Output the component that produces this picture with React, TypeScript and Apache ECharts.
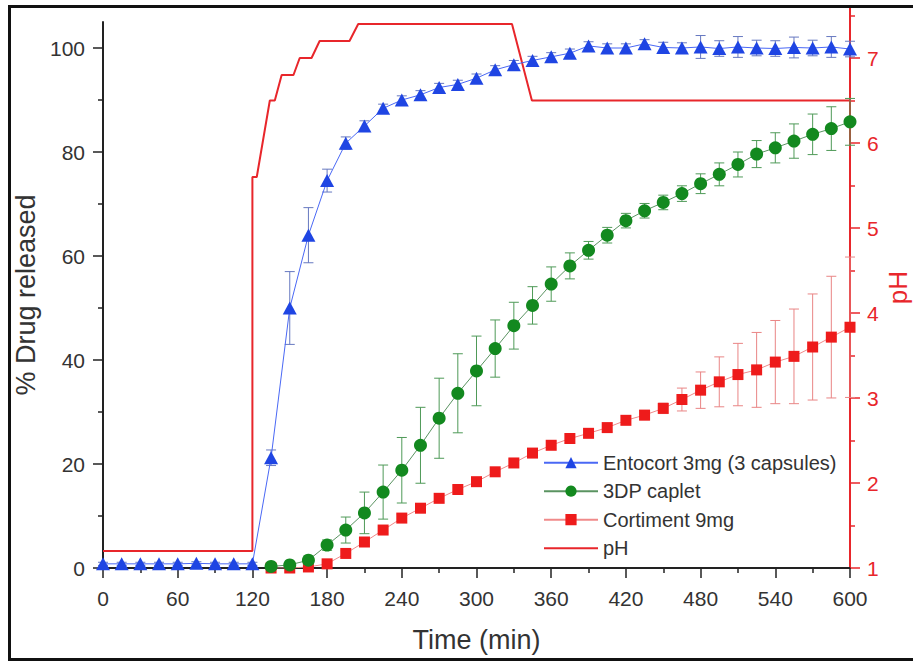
import React, { useEffect, useRef } from 'react';
import * as echarts from 'echarts';

// ---- Data ----
const timeEntocort = [0, 15, 30, 45, 60, 75, 90, 105, 120, 135, 150, 165, 180, 195, 210, 225, 240, 255, 270, 285, 300, 315, 330, 345, 360, 375, 390, 405, 420, 435, 450, 465, 480, 495, 510, 525, 540, 555, 570, 585, 600];
const entocort = [0.8, 0.8, 0.8, 0.8, 0.8, 0.9, 0.8, 0.8, 0.8, 21.2, 50, 64, 74.5, 81.7, 85, 88.4, 90, 91, 92.4, 93, 94.2, 95.8, 96.8, 97.6, 98.3, 99, 100.4, 100, 100, 100.8, 100.1, 100, 100.2, 99.9, 100.2, 100, 99.9, 100.1, 100, 100.2, 99.8];
const entocortErr = [0.3, 0.3, 0.3, 0.3, 0.3, 0.3, 0.3, 0.3, 0.3, 1.5, 7, 5.3, 2.2, 1.2, 1, 0.8, 0.8, 0.8, 0.8, 0.8, 0.8, 0.8, 0.8, 0.8, 0.8, 0.8, 0.8, 0.8, 0.8, 0.8, 1, 1, 2.2, 1.5, 2, 1.5, 1.5, 2, 1.5, 2, 1.5];

const timeLate = [135, 150, 165, 180, 195, 210, 225, 240, 255, 270, 285, 300, 315, 330, 345, 360, 375, 390, 405, 420, 435, 450, 465, 480, 495, 510, 525, 540, 555, 570, 585, 600];
const caplet = [0.3, 0.6, 1.5, 4.4, 7.3, 10.6, 14.6, 18.8, 23.6, 28.8, 33.6, 37.9, 42.2, 46.6, 50.5, 54.6, 58.1, 61.1, 64.0, 66.8, 68.7, 70.3, 72.0, 73.9, 75.7, 77.6, 79.6, 80.8, 82.1, 83.4, 84.5, 85.8];
const capletErr = [0.3, 0.4, 0.8, 1.0, 2.5, 4.0, 5.2, 6.3, 7.3, 7.7, 7.6, 6.7, 5.5, 4.5, 3.6, 3.3, 2.5, 1.7, 1.5, 1.4, 1.4, 1.4, 1.5, 1.9, 2.2, 2.4, 2.6, 2.9, 3.3, 3.9, 4.2, 4.5];
const cortiment = [0, 0, 0.2, 0.8, 2.8, 5.0, 7.3, 9.6, 11.5, 13.4, 15.1, 16.6, 18.5, 20.2, 22.1, 23.6, 24.9, 25.9, 27.0, 28.4, 29.4, 30.7, 32.4, 34.2, 35.8, 37.2, 38.1, 39.6, 40.7, 42.5, 44.4, 46.3];
const cortimentErr = [0.2, 0.2, 0.3, 0.4, 0.5, 0.6, 0.6, 0.7, 0.7, 0.7, 0.7, 0.7, 0.7, 0.7, 0.7, 0.7, 0.7, 0.8, 0.8, 0.8, 0.9, 1.0, 2.2, 3.5, 4.8, 6.0, 7.2, 8.0, 9.1, 10.2, 11.7, 13.5];

const phTime = [0, 120, 120, 123.5, 134, 138, 143.5, 153, 158, 167.5, 174, 198, 205, 328.5, 344.5, 600];
const phValue = [1.2, 1.2, 5.6, 5.6, 6.5, 6.5, 6.8, 6.8, 7.0, 7.0, 7.2, 7.2, 7.4, 7.4, 6.5, 6.5];

const leftMajorTicks = [0, 20, 40, 60, 80, 100];
const leftMinorTicks = [10, 30, 50, 70, 90];
const rightMajorTicks = [1, 2, 3, 4, 5, 6, 7];
const rightMinorTicks = [1.5, 2.5, 3.5, 4.5, 5.5, 6.5, 7.5];

const names = ['Entocort 3mg (3 capsules)', '3DP caplet', 'Cortiment 9mg', 'pH'];

const FONT = 'Liberation Sans, Arial, sans-serif';
const AXIS_DARK = '#222';
const TEXT = '#333';
const PH_RED = '#e8262b';

function pairs(xs: number[], ys: number[]) {
  return xs.map((x, i) => [x, ys[i]]);
}
function triples(xs: number[], ys: number[], es: number[]) {
  return xs.map((x, i) => [x, ys[i], es[i]]);
}

function errRender(color: string) {
  return (params: any, api: any) => {
    const x = api.value(0);
    const y = api.value(1);
    const e = api.value(2);
    if (!e) return null;
    const hi = api.coord([x, y + e]);
    const lo = api.coord([x, y - e]);
    const w = 5;
    const style = { stroke: color, lineWidth: 1 };
    return {
      type: 'group',
      children: [
        { type: 'line', shape: { x1: hi[0], y1: hi[1], x2: lo[0], y2: lo[1] }, style },
        { type: 'line', shape: { x1: hi[0] - w, y1: hi[1], x2: hi[0] + w, y2: hi[1] }, style },
        { type: 'line', shape: { x1: lo[0] - w, y1: lo[1], x2: lo[0] + w, y2: lo[1] }, style },
      ],
    };
  };
}

export default function App() {
  const ref = useRef<HTMLDivElement>(null);
  useEffect(() => {
    const chart = echarts.init(ref.current!, null, { renderer: 'svg' });
    const option: any = {
      animation: false,
      backgroundColor: '#fff',
      textStyle: { fontFamily: FONT },
      grid: [
        { left: 103, right: 63, top: 22, bottom: 94, outerBoundsMode: 'none', containLabel: false },
        { left: 103, right: 63, top: 7, bottom: 94, outerBoundsMode: 'none', containLabel: false },
      ],
      xAxis: [
        {
          gridIndex: 0,
          type: 'value',
          min: 0,
          max: 600,
          interval: 60,
          axisLine: { show: true, onZero: false, lineStyle: { color: AXIS_DARK, width: 2 } },
          axisTick: { show: true, inside: false, length: 10, lineStyle: { color: AXIS_DARK, width: 1.5 } },
          minorTick: { show: true, splitNumber: 2, length: 5, lineStyle: { color: AXIS_DARK, width: 1.5 } },
          axisLabel: { fontSize: 21, color: TEXT, margin: 20, fontFamily: FONT },
          splitLine: { show: false },
          minorSplitLine: { show: false },
          name: 'Time (min)',
          nameLocation: 'middle',
          nameGap: 58,
          nameMoveOverlap: false,
          nameTextStyle: { fontSize: 27, color: TEXT, fontFamily: FONT },
        },
        { gridIndex: 1, type: 'value', min: 0, max: 600, show: false },
      ],
      yAxis: [
        {
          gridIndex: 0,
          type: 'value',
          min: 0,
          max: 105,
          position: 'left',
          axisLine: { show: true, onZero: false, lineStyle: { color: AXIS_DARK, width: 2 } },
          axisTick: { show: true, length: 10, customValues: leftMajorTicks, lineStyle: { color: AXIS_DARK, width: 1.5 } },
          axisLabel: { customValues: leftMajorTicks, fontSize: 21, color: TEXT, margin: 18, fontFamily: FONT },
          splitLine: { show: false },
          name: '% Drug released',
          nameLocation: 'middle',
          nameGap: 64,
          nameMoveOverlap: false,
          nameTextStyle: { fontSize: 27, color: TEXT, fontFamily: FONT },
        },
        {
          gridIndex: 0,
          type: 'value',
          min: 0,
          max: 105,
          position: 'left',
          axisLine: { show: false, onZero: false },
          axisTick: { show: true, length: 5, customValues: leftMinorTicks, lineStyle: { color: AXIS_DARK, width: 1.5 } },
          axisLabel: { show: false },
          splitLine: { show: false },
        },
        {
          gridIndex: 1,
          type: 'value',
          min: 1,
          max: 7.6,
          position: 'right',
          axisLine: { show: true, onZero: false, lineStyle: { color: PH_RED, width: 2 } },
          axisTick: { show: true, length: 10, customValues: rightMajorTicks, lineStyle: { color: PH_RED, width: 1.5 } },
          axisLabel: { customValues: rightMajorTicks, fontSize: 21, color: PH_RED, margin: 17, fontFamily: FONT },
          splitLine: { show: false },
          name: 'pH',
          nameLocation: 'middle',
          nameGap: 35,
          nameMoveOverlap: false,
          nameTextStyle: { fontSize: 26, color: PH_RED, fontFamily: FONT, lineHeight: 26 },
        },
        {
          gridIndex: 1,
          type: 'value',
          min: 1,
          max: 7.6,
          position: 'right',
          axisLine: { show: false, onZero: false },
          axisTick: { show: true, length: 5, customValues: rightMinorTicks, lineStyle: { color: PH_RED, width: 1.5 } },
          axisLabel: { show: false },
          splitLine: { show: false },
        },
      ],
      legend: {
        orient: 'vertical',
        left: 543,
        top: 452.7,
        padding: 0,
        itemWidth: 54,
        itemHeight: 14,
        itemGap: 8.5,
        textStyle: { fontSize: 20, color: TEXT, fontFamily: FONT, lineHeight: 20 },
        data: [names[0], names[1], names[2], { name: names[3], itemStyle: { opacity: 0 } }],
      },
      graphic: [
        {
          type: 'rect',
          shape: { x: 9.5, y: 6.5, width: 950, height: 653 },
          style: { fill: 'none', stroke: '#111', lineWidth: 3 },
          silent: true,
          z: 100,
        },
      ],
      series: [
        {
          name: names[3],
          type: 'line',
          xAxisIndex: 1,
          yAxisIndex: 2,
          data: pairs(phTime, phValue),
          symbol: 'none',
          lineStyle: { color: PH_RED, width: 2 },
          itemStyle: { color: PH_RED },
          z: 1,
        },
        {
          type: 'custom',
          name: 'cortErr',
          xAxisIndex: 0,
          yAxisIndex: 0,
          data: triples(timeLate, cortiment, cortimentErr),
          encode: { x: 0, y: 1 },
          renderItem: errRender('#e98585'),
          z: 2,
        },
        {
          name: names[2],
          type: 'line',
          xAxisIndex: 0,
          yAxisIndex: 0,
          data: pairs(timeLate, cortiment),
          symbol: 'rect',
          symbolSize: 11,
          lineStyle: { color: '#f08a8a', width: 1 },
          itemStyle: { color: '#ee1b1b' },
          z: 3,
        },
        {
          type: 'custom',
          name: 'capErr',
          xAxisIndex: 0,
          yAxisIndex: 0,
          data: triples(timeLate, caplet, capletErr),
          encode: { x: 0, y: 1 },
          renderItem: errRender('#4f9a58'),
          z: 4,
        },
        {
          name: names[1],
          type: 'line',
          xAxisIndex: 0,
          yAxisIndex: 0,
          data: pairs(timeLate, caplet),
          symbol: 'circle',
          symbolSize: 13,
          lineStyle: { color: '#5a9361', width: 1 },
          itemStyle: { color: '#13891f' },
          z: 5,
        },
        {
          type: 'custom',
          name: 'entErr',
          xAxisIndex: 0,
          yAxisIndex: 0,
          data: triples(timeEntocort, entocort, entocortErr),
          encode: { x: 0, y: 1 },
          renderItem: errRender('#6678c0'),
          z: 6,
        },
        {
          name: names[0],
          type: 'line',
          xAxisIndex: 0,
          yAxisIndex: 0,
          data: pairs(timeEntocort, entocort),
          symbol: 'triangle',
          symbolSize: [14, 13],
          lineStyle: { color: '#4a68f5', width: 1 },
          itemStyle: { color: '#1f45e3' },
          z: 7,
        },
      ],
    };
    chart.setOption(option);
    return () => chart.dispose();
  }, []);
  return (
    <div
      ref={ref}
      style={{ position: 'absolute', left: 0, top: 0, width: 913, height: 662, background: '#fff' }}
    />
  );
}
